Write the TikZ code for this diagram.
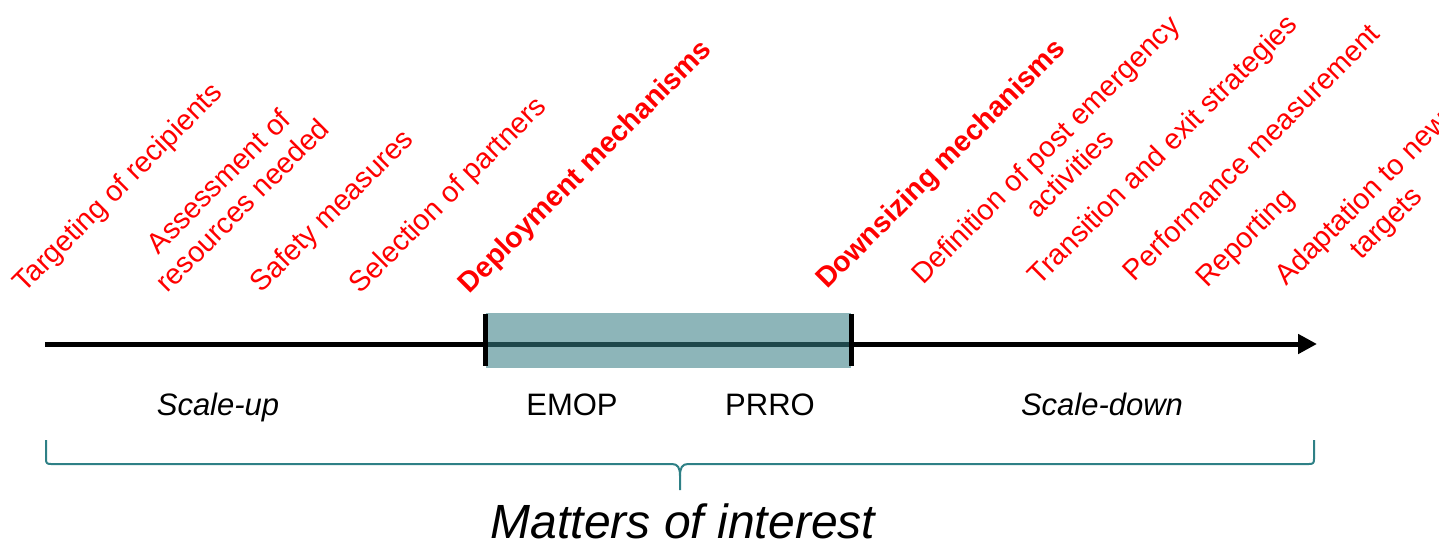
\documentclass[tikz,border=0pt]{standalone}
\usepackage{fontspec}
\setmainfont{Liberation Sans}
\usetikzlibrary{arrows.meta}
\definecolor{phasefill}{RGB}{54,125,132}
\definecolor{bracecol}{RGB}{46,128,134}
\begin{document}
\begin{tikzpicture}[x=1pt,y=-1pt,
  lab/.style={text=red, rotate=45, align=center, inner sep=0pt, font=\fontsize{28.8}{34}\selectfont},
  blab/.style={lab, font=\fontsize{28.5}{34}\selectfont\bfseries},
  phaselab/.style={anchor=base, inner sep=0pt, font=\fontsize{31}{36}\selectfont},
  timeline/.style={line width=5pt, -{Triangle[length=19pt,width=19pt]}},
  phasebox/.style={fill=phasefill, fill opacity=0.57, draw=none, inner sep=0pt, minimum width=365pt, minimum height=55pt},
  phasebar/.style={line width=5pt, black},
  bracepath/.style={draw=bracecol, line width=2pt, line join=round},
  titlelab/.style={anchor=base, inner sep=0pt, font=\fontsize{48}{56}\selectfont\itshape}
]
\useasboundingbox (0,0) rectangle (1439,543);
\clip (0,0) rectangle (1439,543);

% rotated labels
\node[lab]  (l1)  at (119,189) {Targeting of recipients};
\node[lab]  (l2)  at (230,193) {Assessment of\\resources needed};
\node[lab]  (l3)  at (333,212) {Safety measures};
\node[lab]  (l4)  at (449,196) {Selection of partners};
\node[blab] (l5)  at (586,168) {Deployment mechanisms};
\node[blab] (l6)  at (942,165) {Downsizing mechanisms};
\node[lab]  (l7)  at (1057,161) {Definition of post emergency\\activities};
\node[lab]  (l8)  at (1164,151) {Transition and exit strategies};
\node[lab]  (l9)  at (1251,152) {Performance measurement};
\node[lab]  (l10) at (1246,239) {Reporting};
\node[lab]  (l11) at (1375,212) {Adaptation to new\\targets};

% timeline
\coordinate (tstart) at (45,344);
\coordinate (tend) at (1317,344);
\draw[timeline] (tstart) -- (tend);

% phase box
\node[phasebox] (phase) at (668.5,340.5) {};
\draw[phasebar] ([yshift=-1pt]phase.north west) -- ([yshift=2.5pt]phase.south west);
\draw[phasebar] ([yshift=-1pt]phase.north east) -- ([yshift=2.5pt]phase.south east);

% phase labels
\node[phaselab, font=\fontsize{31}{36}\selectfont\itshape] (su) at (218,415) {Scale-up};
\node[phaselab] (emop) at (572,415) {EMOP};
\node[phaselab] (prro) at (770,415) {PRRO};
\node[phaselab, font=\fontsize{31}{36}\selectfont\itshape] (sd) at (1102,415) {Scale-down};

% brace
\coordinate (bl) at (46,440);
\coordinate (br) at (1314,440);
\coordinate (bm) at (680,490);
\draw[bracepath] (bl) -- (46,459) .. controls (46,463) and (47,464) .. (51,464)
  -- (672,464) .. controls (678,464) and (680,468) .. (680,476) -- (bm);
\draw[bracepath] (br) -- (1314,459) .. controls (1314,463) and (1313,464) .. (1309,464)
  -- (688,464) .. controls (682,464) and (680,468) .. (680,476);

% title
\node[titlelab] (moi) at (683,538) {Matters of interest};
\end{tikzpicture}
\end{document}
